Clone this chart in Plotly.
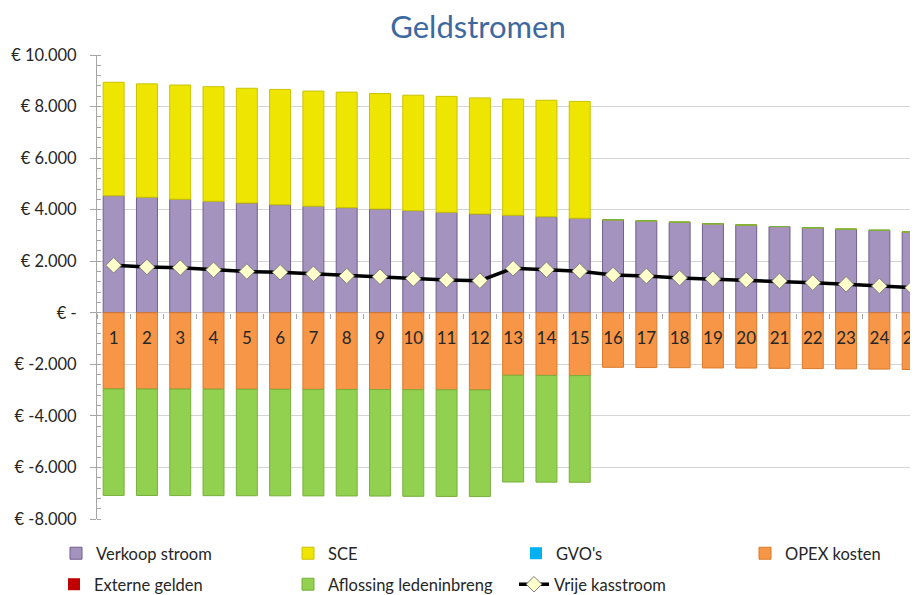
import plotly.graph_objects as go

years = ["1", "2", "3", "4", "5", "6", "7", "8", "9", "10", "11", "12", "13",
         "14", "15", "16", "17", "18", "19", "20", "21", "22", "23", "24", "25"]

verkoop_stroom = [4543, 4480, 4403, 4325, 4259, 4194, 4136, 4078, 4027, 3961,
                  3898, 3833, 3782, 3728, 3666, 3610, 3570, 3515, 3455, 3410,
                  3345, 3300, 3245, 3200, 3140]
sce = [4399, 4400, 4432, 4445, 4451, 4471, 4464, 4482, 4478, 4479, 4497, 4502,
       4508, 4517, 4534, 0, 0, 0, 0, 0, 0, 0, 0, 0, 0]
gvos = [0, 0, 0, 0, 0, 0, 0, 0, 0, 0, 0, 0, 0, 0, 0, 0, 0, 0, 0, 0, 0, 0, 0, 0, 0]
opex = [-2955, -2958, -2961, -2964, -2967, -2970, -2973, -2976, -2980, -2985,
        -2990, -2995, -2425, -2430, -2435, -2115, -2125, -2130, -2140, -2145,
        -2155, -2165, -2175, -2185, -2200]
externe_gelden = [0, 0, 0, 0, 0, 0, 0, 0, 0, 0, 0, 0, 0, 0, 0, 0, 0, 0, 0, 0, 0, 0, 0, 0, 0]
aflossing = [-4130, -4130, -4130, -4130, -4130, -4130, -4130, -4130, -4130, -4135,
             -4135, -4135, -4140, -4140, -4140, 0, 0, 0, 0, 0, 0, 0, 0, 0, 0]
vrije_kasstroom = [1842, 1777, 1750, 1665, 1600, 1571, 1510, 1428, 1400, 1323,
                   1272, 1245, 1726, 1672, 1615, 1466, 1428, 1350, 1311, 1272,
                   1234, 1168, 1105, 1040, 974]

y_tickvals = [-8000, -6000, -4000, -2000, 0, 2000, 4000, 6000, 8000, 10000]
y_ticktext = ["€ -8.000", "€ -6.000", "€ -4.000", "€ -2.000", "€ -",
              "€ 2.000", "€ 4.000", "€ 6.000", "€ 8.000", "€ 10.000"]

FONT = "Lato"
TXT = "#262626"
AX = "#a6a6a6"
# the page body adds an 8px offset; the figure is sized so the window shows it like the reference
OFF = 8
W, H = 918 - OFF, 595 - OFF

fig = go.Figure()


def bar(name, vals, fill, edge, legend, lw=1):
    fig.add_trace(go.Bar(
        x=years, y=vals, name=name, legend=legend, showlegend=True,
        marker=dict(color=fill, line=dict(color=edge, width=lw)),
    ))


bar("Verkoop stroom", verkoop_stroom, "#A593BF", "#6F5F8C", "legend")
bar("SCE", sce, "#EEE600", "#C9C200", "legend2")
bar("GVO's", gvos, "#00B0F0", "#0090C8", "legend3", lw=0)
bar("OPEX kosten", opex, "#F79646", "#D9792A", "legend4")
bar("Externe gelden", externe_gelden, "#C00000", "#A00000", "legend5", lw=0)
bar("Aflossing ledeninbreng", aflossing, "#92D050", "#78B03C", "legend6")

fig.add_trace(go.Scatter(
    x=years, y=vrije_kasstroom, name="Vrije kasstroom", legend="legend7",
    showlegend=True, mode="lines+markers",
    line=dict(color="#000000", width=3.5),
    marker=dict(symbol="diamond", size=12, color="#FFFFCC",
                line=dict(color="#7F7F7F", width=1)),
))


def leg(px, py):
    # px, py: position in window pixels
    return dict(orientation="h", xref="container", yref="container",
                x=(px - OFF) / W, xanchor="left", y=1 - (py - OFF) / H, yanchor="top",
                font=dict(family=FONT, size=16.5, color=TXT),
                bgcolor="rgba(0,0,0,0)")


row1, row2 = 536, 567
fig.update_layout(
    width=W, height=H,
    showlegend=True,
    margin=dict(l=97 - OFF, r=0, t=55 - OFF, b=H - (519 - OFF), autoexpand=False),
    paper_bgcolor="white", plot_bgcolor="white",
    barmode="relative", bargap=0.37,
    font=dict(family=FONT, size=15, color=TXT),
    title=dict(text="Geldstromen", x=(478 - OFF) / W, xref="container", xanchor="center",
               y=1 - (27 - OFF) / H, yref="container", yanchor="middle",
               font=dict(family=FONT, size=31, color="#3C69A0")),
    legend=leg(56, row1),
    legend2=leg(288, row1),
    legend3=leg(516, row1),
    legend4=leg(745, row1),
    legend5=leg(54, row2),
    legend6=leg(288, row2),
    legend7=leg(514, row2),
    xaxis=dict(type="category", range=[-0.5, 24.16], anchor="free", automargin=False,
               position=8000 / 18000, showline=False, showgrid=False, zeroline=False,
               ticks="outside", tickson="boundaries", ticklen=5, tickcolor=AX,
               tickfont=dict(size=17, color=TXT), ticklabelstandoff=13),
    yaxis=dict(range=[-8000, 10000], tickmode="array", tickvals=y_tickvals,
               ticktext=y_ticktext, showgrid=True, gridcolor="#d4d4d4", gridwidth=1,
               zeroline=False, showline=True, linecolor=AX, linewidth=1, automargin=False,
               ticks="outside", ticklen=6, tickcolor=AX, ticklabelstandoff=10,
               tickfont=dict(size=16.5, color=TXT),
               minor=dict(tickmode="linear", tick0=0, dtick=400, ticks="inside",
                          ticklen=4, tickcolor=AX, showgrid=False)),
)

fig.write_html("out.html")
